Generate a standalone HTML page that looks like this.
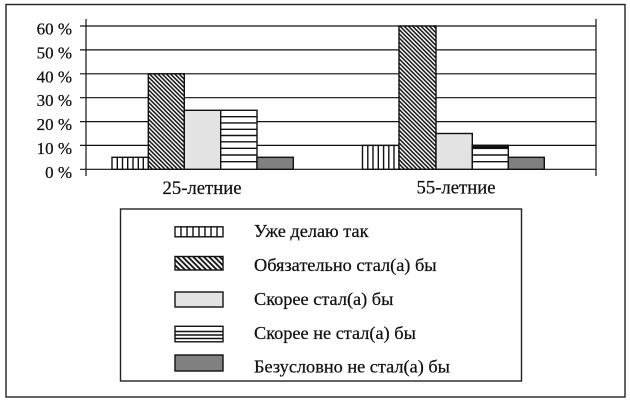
<!DOCTYPE html>
<html>
<head>
<meta charset="utf-8">
<style>
html,body{margin:0;padding:0;background:#fff;}
svg{display:block;}
text{font-family:"Liberation Serif","Times New Roman","DejaVu Serif",serif;fill:#111;stroke:#111;stroke-width:0.25;}
</style>
</head>
<body>
<svg width="630" height="402" viewBox="0 0 630 402" xmlns="http://www.w3.org/2000/svg" font-family="Liberation Serif, Times New Roman, serif">
<defs>
<pattern id="diag" width="4.2" height="4.2" patternUnits="userSpaceOnUse">
<rect width="4.2" height="4.2" fill="#fff"/>
<path d="M-1,-1 L5.2,5.2 M-1,3.2 L1,5.2 M3.2,-1 L5.2,1" stroke="#111" stroke-width="1.5"/>
</pattern>
<pattern id="diagL" width="5.3" height="5.3" patternUnits="userSpaceOnUse">
<rect width="5.3" height="5.3" fill="#fff"/>
<path d="M-1,-1 L6.3,6.3 M-1,4.3 L1,6.3 M4.3,-1 L6.3,1" stroke="#111" stroke-width="1.8"/>
</pattern>
</defs>

<rect x="0" y="0" width="630" height="402" fill="#fff"/>
<rect x="6" y="4.5" width="619" height="392.5" fill="none" stroke="#222" stroke-width="1.4"/>

<g stroke="#111" stroke-width="1.2">
<line x1="80" y1="26" x2="596" y2="26"/>
<line x1="80" y1="49.9" x2="596" y2="49.9"/>
<line x1="80" y1="73.8" x2="596" y2="73.8"/>
<line x1="80" y1="97.7" x2="596" y2="97.7"/>
<line x1="80" y1="121.6" x2="596" y2="121.6"/>
<line x1="80" y1="145.4" x2="596" y2="145.4"/>
<line x1="80" y1="169.3" x2="596" y2="169.3"/>
<line x1="86" y1="19" x2="86" y2="176"/>
<line x1="596" y1="19" x2="596" y2="176"/>
</g>

<g font-size="17" text-anchor="end">
<text x="72" y="34.5">60 %</text>
<text x="72" y="58.4">50 %</text>
<text x="72" y="82.3">40 %</text>
<text x="72" y="106.2">30 %</text>
<text x="72" y="130.1">20 %</text>
<text x="72" y="154">10 %</text>
<text x="72" y="177.8">0 %</text>
</g>

<g stroke="#111" stroke-width="1.4">
<rect x="112" y="157.3" width="36.3" height="12" fill="#fff"/>
<line x1="117.3" y1="157.3" x2="117.3" y2="169.3"/>
<line x1="122.5" y1="157.3" x2="122.5" y2="169.3"/>
<line x1="127.7" y1="157.3" x2="127.7" y2="169.3"/>
<line x1="133" y1="157.3" x2="133" y2="169.3"/>
<line x1="138.3" y1="157.3" x2="138.3" y2="169.3"/>
<line x1="143.3" y1="157.3" x2="143.3" y2="169.3"/>
<rect x="148.3" y="73.8" width="36" height="95.5" fill="url(#diag)"/>
<rect x="184.3" y="110.3" width="36.4" height="59" fill="#e3e3e3"/>
<rect x="220.7" y="110.3" width="36.3" height="59" fill="#fff"/>
<line x1="220.7" y1="116.7" x2="257" y2="116.7"/>
<line x1="220.7" y1="122.9" x2="257" y2="122.9"/>
<line x1="220.7" y1="129.3" x2="257" y2="129.3"/>
<line x1="220.7" y1="135.5" x2="257" y2="135.5"/>
<line x1="220.7" y1="141.8" x2="257" y2="141.8"/>
<line x1="220.7" y1="148.3" x2="257" y2="148.3"/>
<line x1="220.7" y1="155" x2="257" y2="155"/>
<line x1="220.7" y1="161.7" x2="257" y2="161.7"/>
<rect x="257" y="157.3" width="36.3" height="12" fill="#808080"/>
</g>

<g stroke="#111" stroke-width="1.4">
<rect x="362.5" y="145.4" width="36.5" height="23.9" fill="#fff"/>
<line x1="367.8" y1="145.4" x2="367.8" y2="169.3"/>
<line x1="373" y1="145.4" x2="373" y2="169.3"/>
<line x1="378.3" y1="145.4" x2="378.3" y2="169.3"/>
<line x1="383.6" y1="145.4" x2="383.6" y2="169.3"/>
<line x1="388.8" y1="145.4" x2="388.8" y2="169.3"/>
<line x1="394" y1="145.4" x2="394" y2="169.3"/>
<rect x="399" y="26" width="37" height="143.3" fill="url(#diag)"/>
<rect x="436" y="133.5" width="36.3" height="35.8" fill="#e3e3e3"/>
<rect x="472.3" y="145.4" width="36" height="23.9" fill="#fff"/>
<rect x="472.3" y="145.4" width="36" height="3" fill="#111"/>
<line x1="472.3" y1="155" x2="508.3" y2="155"/>
<line x1="472.3" y1="161.7" x2="508.3" y2="161.7"/>
<rect x="508.3" y="157.3" width="36" height="12" fill="#808080"/>
</g>

<g font-size="18.7" text-anchor="middle">
<text x="202" y="194">25-летние</text>
<text x="456" y="193.5">55-летние</text>
</g>

<rect x="120.5" y="209" width="401" height="172" fill="none" stroke="#222" stroke-width="1.4"/>

<g stroke="#111" stroke-width="1.4">
<rect x="175" y="226.8" width="48" height="10" fill="#fff"/>
<line x1="181" y1="226.8" x2="181" y2="236.8"/>
<line x1="187" y1="226.8" x2="187" y2="236.8"/>
<line x1="193" y1="226.8" x2="193" y2="236.8"/>
<line x1="199" y1="226.8" x2="199" y2="236.8"/>
<line x1="205" y1="226.8" x2="205" y2="236.8"/>
<line x1="211" y1="226.8" x2="211" y2="236.8"/>
<line x1="217" y1="226.8" x2="217" y2="236.8"/>
<rect x="175" y="256.5" width="48" height="13.5" fill="url(#diagL)"/>
<rect x="175" y="292" width="48" height="15" fill="#e3e3e3"/>
<rect x="175" y="326.3" width="48" height="15.5" fill="#fff"/>
<line x1="175" y1="331.5" x2="223" y2="331.5"/>
<line x1="175" y1="335" x2="223" y2="335"/>
<line x1="175" y1="338.5" x2="223" y2="338.5"/>
<rect x="175" y="355" width="48" height="16" fill="#808080"/>
</g>

<g font-size="18.3">
<text x="254" y="237">Уже делаю так</text>
<text x="254" y="271">Обязательно стал(а) бы</text>
<text x="254" y="305">Скорее стал(а) бы</text>
<text x="254" y="339">Скорее не стал(а) бы</text>
<text x="254" y="372.5">Безусловно не стал(а) бы</text>
</g>
</svg>
</body>
</html>
